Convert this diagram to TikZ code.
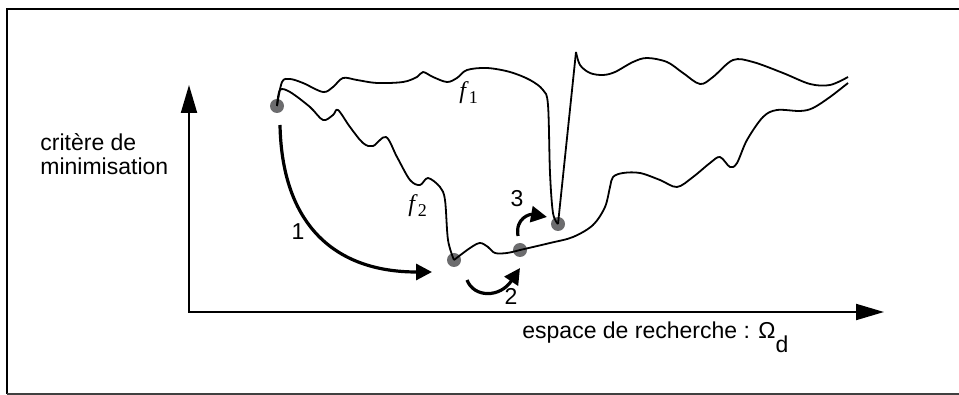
\documentclass[tikz,border=0pt]{standalone}
\usepackage{fontspec}
\setmainfont{Liberation Sans}
\newfontfamily\timesfont{Liberation Serif}
\usepackage{xcolor}
\definecolor{dotgray}{RGB}{108,108,110}
\usepackage{tikz}
\usetikzlibrary{arrows.meta, positioning}

\begin{document}
\begin{tikzpicture}[
			x=0.5pt, y=-0.5pt,
			curve/.style={line width=0.9pt, line join=round},
			arrow/.style={-{Triangle[length=8pt,width=8pt]}, line width=1.6pt},
			axis/.style={{Triangle[length=14pt,width=8pt]}-{Triangle[length=14pt,width=8pt]}, line width=1pt},
			dot/.style={circle, fill=dotgray, inner sep=0pt, minimum size=7pt},
			lbl/.style={font=\fontsize{11.5}{12}\selectfont, inner sep=0pt},
			fname/.style={font=\fontsize{12}{12}\timesfont, inner sep=0pt}
			]
			
			\useasboundingbox (0,0) rectangle (959,395);
			
			% cadre
			\draw[line width=1.4pt] (959,9) -- (7,9) -- (7,394);
			\draw[line width=0.7pt, black!75] (7,394) -- (959,394);
			
			% axes
			\coordinate (o) at (189,312);
			\coordinate (ytop) at (189,85);
			\coordinate (xend) at (884,312);
			\draw[axis] (ytop) -- (o) -- (xend);
			
			\node[lbl, anchor=north west, align=left] (crit) at (40,133) {critère de\\minimisation};
			\node[lbl, anchor=base west] (space) at (522,339) {espace de recherche : Ω\raisebox{-7pt}{d}};
			
			% minima
			\node[dot] (p0) at (277,106) {};
			\node[dot] (p1) at (454,260) {};
			\node[dot] (p2) at (520,250) {};
			\node[dot] (p3) at (558,224) {};
			\coordinate (spike) at (576,52);
			
			% f1
			\draw[curve] plot[smooth, tension=0.55] coordinates {(p0.center) (282,82) (290,79) (303,83) (323,92) (333,87) (343,78) (357,80) (377,83) (403,82) (417,77) (423,72) (433,77) (447,82) (457,78) (467,70) (487,68) (510,72) (530,80) (543,90) (548,105) (550,173) (553,213) (p3.center)};
			\draw[curve] (p3.center) -- (spike);
			\draw[curve] plot[smooth, tension=0.55] coordinates {(spike) (580,65) (590,73) (603,75) (615,72) (633,62) (647,58) (667,62) (683,73) (700,84) (713,77) (733,60) (753,62) (783,73) (810,84) (830,85) (848,77)};
			
			% f2
			\draw[curve] plot[smooth, tension=0.55] coordinates {(p0.center) (280,90) (290,92) (310,107) (323,120) (333,115) (338,110) (350,127) (363,143) (373,146) (386,137) (397,157) (410,180) (420,185) (428,178) (440,187) (445,200) (448,240) (p1.center)};
			\draw[curve] plot[smooth, tension=0.55] coordinates {(p1.center) (470,248) (480,243) (488,247) (495,253) (507,253) (p2.center)};
			\draw[curve] plot[smooth, tension=0.55] coordinates {(p2.center) (550,243) (573,237) (593,225) (605,207) (610,187) (613,177) (623,173) (640,173) (660,180) (677,187) (693,177) (710,163) (720,157) (730,167) (737,163) (747,140) (763,117) (777,110) (800,111) (813,108) (830,97) (848,83)};
			
			\node[fname, anchor=base west] (f1) at (459,99) {\textit{f}\raisebox{-2.5pt}{\fontsize{9}{9}\selectfont 1}};
			\node[fname, anchor=base west] (f2) at (408,212) {\textit{f}\raisebox{-2.5pt}{\fontsize{9}{9}\selectfont 2}};
			
			% deplacements
			\coordinate (s1) at (280,125);
			\coordinate (e1) at (432,272);
			\coordinate (s2) at (467,280);
			\coordinate (e2) at (520,268);
			\coordinate (s3) at (518,236);
			\coordinate (e3) at (547,217);
			\draw[arrow] (s1) .. controls (282,225) and (335,272) .. (e1);
			\draw[arrow] (s2) .. controls (474,298) and (500,298) .. (e2);
			\draw[arrow] (s3) .. controls (515,218) and (530,214) .. (e3);
			
			\node[lbl, anchor=base] (n1) at (298,240) {1};
			\node[lbl, anchor=base] (n2) at (511,305) {2};
			\node[lbl, anchor=base] (n3) at (517,207) {3};
			
		\end{tikzpicture}
\end{document}
